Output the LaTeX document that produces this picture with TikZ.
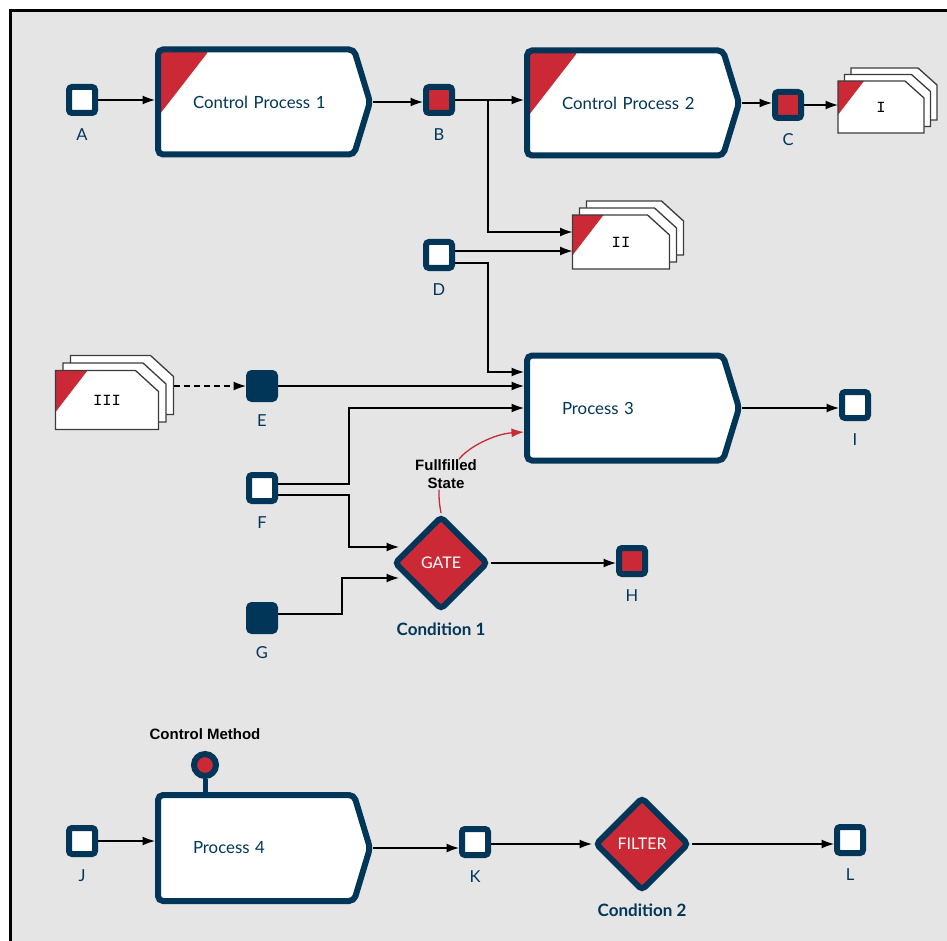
\documentclass[tikz,border=0pt]{standalone}
\usepackage{fontspec}
\setmainfont{Lato}
\newfontfamily\notefont{Liberation Sans}
\newfontfamily\sheetfont{Liberation Mono}
\usetikzlibrary{arrows.meta,shapes.geometric,backgrounds}

\definecolor{ink}{RGB}{2,54,89}
\definecolor{flag}{RGB}{203,41,53}
\definecolor{canvas}{RGB}{229,229,229}
\definecolor{sheetline}{RGB}{60,60,60}

% process outline: body with a pointed right side, drawn around a named node
\newcommand\procshape[2]{%
  \path[procskin,#2] ([shift={(3,3)}]#1.north west)
    -- ([shift={(-19,3)}]#1.north east)
    -- ([shift={(-3,0)}]#1.east)
    -- ([shift={(-19,-3)}]#1.south east)
    -- ([shift={(3,-3)}]#1.south west) -- cycle;}

% stack of three documents behind a named front sheet
% #1 node, #2/#3 chamfer size, #4 flag width, #5 offset of the copies
\newcommand\docstack[5]{%
  \foreach \k in {2,1}{%
    \path[sheet] ([shift={(#5*\k,-#5*\k)}]#1.north west)
      -- ([shift={(#5*\k-#2,-#5*\k)}]#1.north east)
      -- ([shift={(#5*\k,-#5*\k+#3)}]#1.north east)
      -- ([shift={(#5*\k,-#5*\k)}]#1.south east)
      -- ([shift={(#5*\k,-#5*\k)}]#1.south west) -- cycle;
  }
  \path[sheet, path picture={\fill[flag] (path picture bounding box.north west)
      -- ++(#4,0) -- ++({-#4},{1.3*#4}) -- cycle;}]
    (#1.north west) -- ([shift={(-#2,0)}]#1.north east)
    -- ([shift={(0,#3)}]#1.north east) -- (#1.south east)
    -- (#1.south west) -- cycle;}

\begin{document}
\begin{tikzpicture}[x=1pt,y=-1pt,
  conn/.style={draw=black, line width=1.3pt, -{Latex[length=12.5pt,width=9pt]}},
  fsline/.style={draw=flag, line width=1.3pt},
  port/.style={rectangle, draw=ink, line width=6pt, rounded corners=3pt,
    minimum size=26pt, inner sep=0pt, fill=white},
  porttag/.style={font=\fontsize{16.5pt}{19pt}\selectfont, text=ink, inner sep=0pt},
  lab/.style={label={[porttag,label distance=12pt]below:#1}},
  condtext/.style={font=\bfseries\fontsize{17pt}{20pt}\selectfont, text=ink, inner sep=0pt},
  cond/.style={label={[condtext,label distance=10pt]below:#1}},
  procnode/.style={rectangle, minimum width=218pt, minimum height=111pt,
    text width=142pt, inner xsep=38pt, inner ysep=0pt, align=left, outer sep=0pt,
    font=\fontsize{16.8pt}{19pt}\selectfont, text=ink},
  procskin/.style={fill=white, draw=ink, line width=6pt, rounded corners=5pt},
  flagged/.style={path picture={\fill[flag] (path picture bounding box.north west)
      -- ++(52,0) -- ++(-52,67) -- cycle;}},
  gatenode/.style={diamond, aspect=1, draw=ink, fill=flag, line width=6pt,
    rounded corners=4pt, minimum width=94pt, minimum height=94pt, inner sep=0pt,
    text=white, font=\fontsize{16pt}{18pt}\selectfont},
  sheet/.style={fill=white, draw=sheetline, line width=1.3pt},
  sheetnode/.style={rectangle, inner sep=0pt, outer sep=0pt,
    font=\sheetfont\fontsize{15.5pt}{17pt}\selectfont, text=black},
  note/.style={font=\notefont\bfseries\fontsize{15pt}{18pt}\selectfont, text=black},
  knob/.style={circle, draw=ink, fill=flag, line width=6pt, minimum size=22pt, inner sep=0pt}]

\useasboundingbox (0,0) rectangle (947,941);

% ---- nodes ----
\node[port, lab=A] (A) at (82,100) {};
\node[procnode] (CP1) at (264,102) {Control Process 1};
\node[port, fill=flag, lab=B] (B) at (439,100) {};
\node[procnode] (CP2) at (633,103) {Control Process 2};
\node[port, fill=flag, lab=C] (C) at (788,105) {};
\node[sheetnode, minimum width=86pt, minimum height=52pt] (docI) at (881,107) {I};
\node[sheetnode, minimum width=97pt, minimum height=54pt] (docII) at (621,242) {II};
\node[port, lab=D] (D) at (439,255) {};
\node[sheetnode, minimum width=103pt, minimum height=59pt] (docIII) at (107,400) {III};
\node[port, fill=ink, lab=E] (E) at (262,386) {};
\node[procnode] (P3) at (633,408) {Process 3};
\node[port, lab=I] (sqI) at (855,405) {};
\node[port, lab=F] (F) at (262,488) {};
\node[gatenode, cond=Condition 1] (gate) at (441,563) {GATE};
\node[port, fill=ink, lab=G] (G) at (262,618) {};
\node[port, fill=flag, lab=H] (H) at (632,561) {};
\node[note, align=center, inner sep=1pt] (fs) at (446,474) {Fullfilled\\State};
\node[procnode, minimum height=112pt] (P4) at (264,848) {Process 4};
\node[knob, label={[note,inner sep=0pt,label distance=11pt]above:Control Method}] (cm) at (205,765) {};
\node[port, lab=J] (J) at (82,841) {};
\node[port, lab=K] (K) at (475,842) {};
\node[gatenode, cond=Condition 2] (filter) at (642,844) {FILTER};
\node[port, lab=L] (L) at (850,840) {};

% ---- canvas, frame, document stacks and process bodies ----
\begin{scope}[on background layer]
  \fill[white] (0,0) rectangle (947,941);
  \fill[canvas] (10.5,10.5) rectangle (947,941);
  \draw[line width=3pt] (10.5,941) -- (10.5,10.5) -- (947,10.5);
  \docstack{docI}{19}{17}{26}{6.5}
  \docstack{docII}{22}{20}{31}{7}
  \docstack{docIII}{23}{21}{32}{7.5}
  \procshape{CP1}{flagged}
  \procshape{CP2}{flagged}
  \procshape{P3}{}
  \procshape{P4}{}
  \draw[ink, line width=5pt] (cm.south) -- (cm.south |- P4.north);
\end{scope}

% ---- connectors ----
\coordinate (Bfork) at ([shift={(33,0)}]B.east);
\coordinate (Dout1) at ([shift={(0,-4)}]D.east);
\coordinate (Dout2) at ([shift={(0,8)}]D.east);
\coordinate (P3in1) at ([shift={(0,-36)}]P3.west);
\coordinate (P3in4) at ([shift={(0,24)}]P3.west);
\coordinate (IIin1) at ([shift={(0,-10)}]docII.west);
\coordinate (IIIout) at ([shift={(15,0)}]docIII.east);
\coordinate (Fout1) at ([shift={(0,-4)}]F.east);
\coordinate (Fout2) at ([shift={(0,7)}]F.east);
\coordinate (Fx) at ([shift={(71,0)}]F.east);
\coordinate (Gout) at ([shift={(0,-4)}]G.east);
\coordinate (Gx) at ([shift={(64,0)}]G.east);
\coordinate (gateIn1) at ([shift={(8,-16)}]gate.west);
\coordinate (gateIn2) at ([shift={(8,15)}]gate.west);

\draw[conn] (A.east) -- (A.east -| CP1.west);
\draw[conn] (CP1.east) -- (CP1.east -| B.west);
\draw[conn] (B.east) -- (B.east -| CP2.west);
\draw[conn] (Bfork) |- (IIin1);
\draw[conn] (CP2.east) -- (CP2.east -| C.west);
\draw[conn] (C.east) -- (C.east -| docI.west);
\draw[conn] (Dout1) -- (Dout1 -| docII.west);
\draw[conn] (Dout2) -| (Bfork |- P3in1) -- (P3in1);
\draw[conn, dash pattern=on 6pt off 4pt] (IIIout |- E.west) -- (E.west);
\draw[conn] (E.east) -- (E.east -| P3.west);
\draw[conn] (Fout1) -| (Fx |- P3.west) -- (P3.west);
\draw[conn] (Fout2) -| (Fx |- gateIn1) -- (gateIn1);
\draw[conn] (Gout) -| (Gx |- gateIn2) -- (gateIn2);
\draw[conn] (gate.east) -- (gate.east -| H.west);
\draw[conn] (P3.east) -- (P3.east -| sqI.west);
\draw[fsline] (gate.north) .. controls ([shift={(-2,-12)}]gate.north) .. ([shift={(-7,0)}]fs.south);
\draw[fsline, -{Latex[length=12.5pt,width=9pt]}] ([shift={(13,1)}]fs.north)
  .. controls ([shift={(22,-11)}]fs.north) and ([shift={(-30,2)}]P3in4) .. (P3in4);
\draw[conn] (J.east) -- (J.east -| P4.west);
\draw[conn] (P4.east) -- (P4.east -| K.west);
\draw[conn] (K.east |- filter.west) -- (filter.west);
\draw[conn] (filter.east) -- (filter.east -| L.west);
\end{tikzpicture}
\end{document}
